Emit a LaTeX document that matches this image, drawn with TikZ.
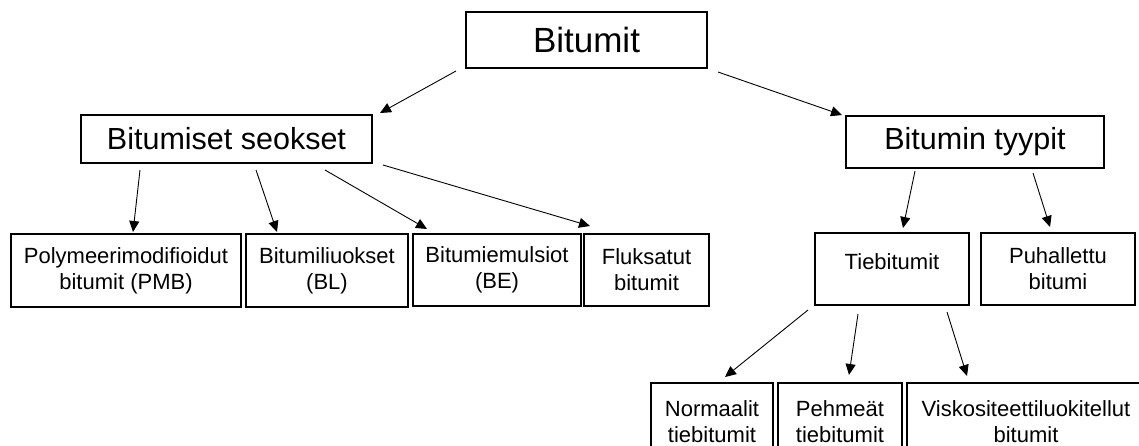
\documentclass[tikz,border=0pt]{standalone}
\usepackage{fontspec}
\setmainfont{Liberation Sans}
\usetikzlibrary{arrows.meta}
\begin{document}
\begin{tikzpicture}[x=1pt,y=-1pt,
 box/.style={draw, line width=1.6pt, inner sep=0pt, align=center, font=\fontsize{22}{26}\selectfont},
 big/.style={box, font=\fontsize{30.5}{36}\selectfont},
 arr/.style={line width=0.9pt, -{Triangle[length=11pt,width=10pt]}}]
\useasboundingbox (0,0) rectangle (1139,446);
\clip (0,0) rectangle (1139,446);
% boxes
\node[box, font=\fontsize{35}{40}\selectfont, minimum width=241pt, minimum height=56pt] (bitumit) at (586.5,40) {Bitumit};
\node[big, minimum width=291pt, minimum height=48pt] (seokset) at (226.5,139) {Bitumiset seokset};
\node[big, minimum width=258pt, minimum height=52pt] (tyypit) at (975,142) {Bitumin tyypit};
\node[box, minimum width=230pt, minimum height=73pt] (pmb) at (126,270.5) {Polymeerimodifioidut\\bitumit (PMB)};
\node[box, minimum width=162pt, minimum height=73pt] (bl) at (327,270.5) {Bitumiliuokset\\(BL)};
\node[box, minimum width=168pt, minimum height=72pt] (be) at (497,270) {Bitumiemulsiot\\(BE)};
\node[box, minimum width=125pt, minimum height=72pt] (fluks) at (646.5,270) {Fluksatut\\bitumit};
\node[box, minimum width=154pt, minimum height=72pt] (tie) at (892,269) {\raisebox{0pt}[\height][14pt]{Tiebitumit}};
\node[box, minimum width=154pt, minimum height=72pt] (puh) at (1058,269) {Puhallettu\\bitumi};
\node[box, minimum width=122pt, minimum height=77pt] (norm) at (712,421.5) {Normaalit\\tiebitumit};
\node[box, minimum width=124pt, minimum height=77pt] (peh) at (840,421.5) {Pehmeät\\tiebitumit};
\node[box, minimum width=238pt, minimum height=77pt] (visk) at (1026,421.5) {Viskositeettiluokitellut\\bitumit};
% connector ends
\coordinate (a1s) at (456,71);   \coordinate (a1e) at (380,113);
\coordinate (a2s) at (718,72);   \coordinate (a2e) at (842,115);
\coordinate (a3s) at (140,170);  \coordinate (a3e) at (133,232);
\coordinate (a4s) at (256,170);  \coordinate (a4e) at (277,232);
\coordinate (a5s) at (325,170);  \coordinate (a5e) at (427,229);
\coordinate (a6s) at (383,165);  \coordinate (a6e) at (590,226);
\coordinate (a7s) at (915,171);  \coordinate (a7e) at (903,228);
\coordinate (a8s) at (1033,173); \coordinate (a8e) at (1050,227);
\coordinate (a9s) at (808,310);  \coordinate (a9e) at (725,377);
\coordinate (a10s) at (858,314); \coordinate (a10e) at (849,375);
\coordinate (a11s) at (947,312); \coordinate (a11e) at (967,376);
\foreach \i in {1,...,11} {\draw[arr] (a\i s) -- (a\i e);}
\end{tikzpicture}
\end{document}
